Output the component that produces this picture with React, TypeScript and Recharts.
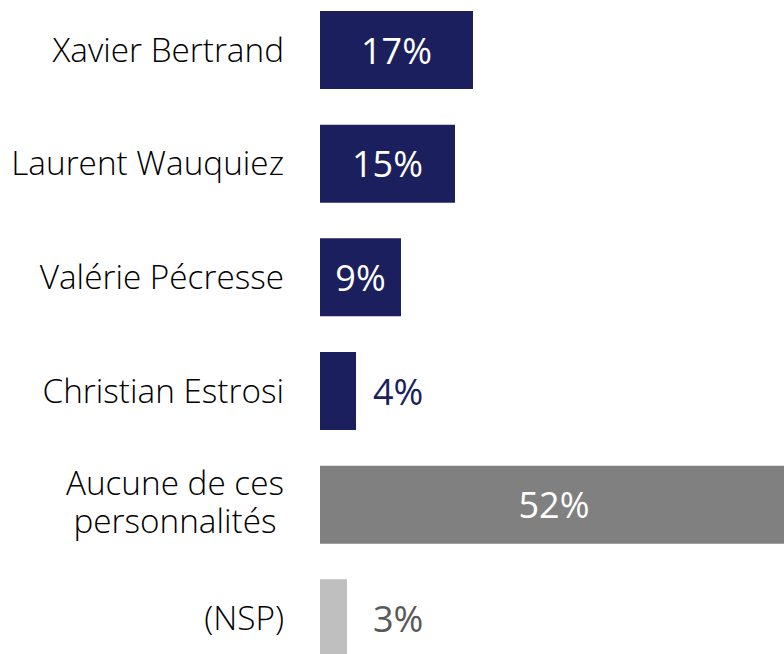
import { BarChart, Bar, XAxis, YAxis, Cell, LabelList } from "recharts";

const categories = [
  "Xavier Bertrand",
  "Laurent Wauquiez",
  "Valérie Pécresse",
  "Christian Estrosi",
  "Aucune de ces\npersonnalités",
  "(NSP)",
];
const values = [17, 15, 9, 4, 52, 3];

const barColors = ["#1b1f5e", "#1b1f5e", "#1b1f5e", "#1b1f5e", "#808080", "#bfbfbf"];
const outsideColors = ["#1b1f5e", "#1b1f5e", "#1b1f5e", "#1b1f5e", "#595959", "#595959"];

const data = categories.map((name, i) => ({ name, value: values[i] }));

const FONT = '"Open Sans", sans-serif';
const CAT_SIZE = 33.3;
const VAL_SIZE = 36;

let ctx: CanvasRenderingContext2D | null = null;
function textWidth(s: string) {
  if (!ctx) ctx = document.createElement("canvas").getContext("2d");
  if (!ctx) return s.length * CAT_SIZE * 0.5;
  ctx.font = `300 ${CAT_SIZE}px ${FONT}`;
  return ctx.measureText(s).width;
}

function CategoryTick(props: any) {
  const { x, y, payload } = props;
  const lines = String(payload.value).split("\n");
  if (lines.length === 1) {
    return (
      <text x={x} y={y} dy={11.9} textAnchor="end" fontFamily={FONT} fontWeight={300}
        fontSize={CAT_SIZE} fill="#000">
        {lines[0]}
      </text>
    );
  }
  const w = Math.max(...lines.map(textWidth));
  const cx = x - w / 2;
  return (
    <text x={cx} y={y} textAnchor="middle" fontFamily={FONT} fontWeight={300}
      fontSize={CAT_SIZE} fill="#000">
      {lines.map((l, i) => (
        <tspan key={i} x={cx} dy={i === 0 ? -10 : 38}>
          {l}
        </tspan>
      ))}
    </text>
  );
}

function ValueLabel(props: any) {
  const { x, y, width, height, value, index } = props;
  const cy = y + height / 2;
  if (value < 6) {
    return (
      <text x={x + 53} y={cy} dy={13.5} textAnchor="start" fontFamily={FONT}
        fontSize={VAL_SIZE} fill={outsideColors[index]}>
        {value}%
      </text>
    );
  }
  return (
    <text x={x + width / 2} y={cy} dy={13.5} textAnchor="middle" fontFamily={FONT}
      fontSize={VAL_SIZE} fill="#fff">
      {value}%
    </text>
  );
}

export default function App() {
  return (
    <div style={{ position: "fixed", left: 0, top: 0, width: 784, height: 654, overflow: "hidden", background: "#fff" }}>
      <div style={{ position: "absolute", left: 0, top: -6.6 }}>
        <BarChart
          width={788}
          height={682}
          data={data}
          layout="vertical"
          margin={{ top: 0, right: 0, bottom: 0, left: 0 }}
        >
          <XAxis type="number" domain={[0, 52]} hide />
          <YAxis
            type="category"
            dataKey="name"
            width={320}
            axisLine={false}
            tickLine={false}
            tickSize={0}
            tickMargin={36}
            tick={<CategoryTick />}
            interval={0}
          />
          <Bar dataKey="value" barSize={78} isAnimationActive={false}>
            {data.map((d, i) => (
              <Cell key={d.name} fill={barColors[i]} />
            ))}
            <LabelList dataKey="value" content={<ValueLabel />} />
          </Bar>
        </BarChart>
      </div>
    </div>
  );
}
